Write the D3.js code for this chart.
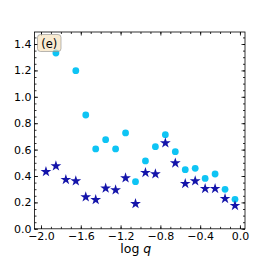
<!DOCTYPE html>
<html>
<head>
<meta charset="utf-8">
<script src="https://cdn.jsdelivr.net/npm/d3@7"></script>
<style>
  body { margin: 0; background: #fff; }
  text { font-family: "DejaVu Sans", sans-serif; }
</style>
</head>
<body>
<script>
'use strict';

// data
const circleX = [-1.85, -1.65, -1.55, -1.45, -1.35, -1.25, -1.15, -1.05, -0.95, -0.85, -0.75, -0.65, -0.55, -0.45, -0.35, -0.25, -0.15, -0.05];
const circleY = [1.332, 1.198, 0.862, 0.605, 0.675, 0.605, 0.726, 0.357, 0.514, 0.622, 0.713, 0.584, 0.448, 0.458, 0.382, 0.415, 0.299, 0.223];
const starX = [-1.95, -1.85, -1.75, -1.65, -1.55, -1.45, -1.35, -1.25, -1.15, -1.05, -0.95, -0.85, -0.75, -0.65, -0.55, -0.45, -0.35, -0.25, -0.15, -0.05];
const starY = [0.432, 0.476, 0.372, 0.362, 0.241, 0.22, 0.307, 0.294, 0.385, 0.19, 0.425, 0.415, 0.65, 0.498, 0.342, 0.362, 0.304, 0.304, 0.228, 0.175];
const xTicks = [-2.0, -1.6, -1.2, -0.8, -0.4, 0.0];
const yTicks = [0.0, 0.2, 0.4, 0.6, 0.8, 1.0, 1.2, 1.4];
const panelLabel = "(e)";

(function() {
  const width = 274, height = 258;
  const left = 34.5, right = 245, top = 32, bottom = 228.8;

  let svg = d3.select('body').append('svg')
    .attr('width', width)
    .attr('height', height);

  let xScale = d3.scaleLinear().domain([-2.0652, 0.0506]).range([left, right]);
  let yScale = d3.scaleLinear().domain([0, 1.491]).range([bottom, top]);

  let fmt = (d) => d3.format('.1f')(d).replace('-', '\u2212');

  // minor ticks
  let xMinor = d3.range(-2.0, 0.051, 0.1);
  let yMinor = d3.range(0, 1.491, 0.05);

  // axes with inward ticks on all four sides
  svg.append('g')
    .attr('transform', `translate(0,${bottom})`)
    .call(d3.axisBottom(xScale).tickValues(xMinor).tickSize(-2).tickFormat(''));
  svg.append('g')
    .attr('transform', `translate(0,${bottom})`)
    .call(d3.axisBottom(xScale).tickValues(xTicks).tickSize(-3.5).tickPadding(3).tickFormat(fmt));
  svg.append('g')
    .attr('transform', `translate(0,${top})`)
    .call(d3.axisTop(xScale).tickValues(xMinor).tickSize(-2).tickFormat(''));
  svg.append('g')
    .attr('transform', `translate(0,${top})`)
    .call(d3.axisTop(xScale).tickValues(xTicks).tickSize(-3.5).tickFormat(''));
  svg.append('g')
    .attr('transform', `translate(${left},0)`)
    .call(d3.axisLeft(yScale).tickValues(yMinor).tickSize(-2).tickFormat(''));
  svg.append('g')
    .attr('transform', `translate(${left},0)`)
    .call(d3.axisLeft(yScale).tickValues(yTicks).tickSize(-3.5).tickPadding(3).tickFormat(fmt));
  svg.append('g')
    .attr('transform', `translate(${right},0)`)
    .call(d3.axisRight(yScale).tickValues(yMinor).tickSize(-2).tickFormat(''));
  svg.append('g')
    .attr('transform', `translate(${right},0)`)
    .call(d3.axisRight(yScale).tickValues(yTicks).tickSize(-3.5).tickFormat(''));

  svg.selectAll('.domain').remove();
  svg.selectAll('.tick line').attr('stroke', '#000').attr('stroke-width', 0.8);
  svg.selectAll('.tick text')
    .attr('fill', '#000')
    .style('font-size', '11px')
    .style('font-family', '"DejaVu Sans", sans-serif');

  // frame
  svg.append('rect')
    .attr('x', left).attr('y', top)
    .attr('width', right - left).attr('height', bottom - top)
    .attr('fill', 'none').attr('stroke', '#000').attr('stroke-width', 0.8);

  // cyan circles
  svg.selectAll('.dot')
    .data(circleX.map((x, i) => ({x: x, y: circleY[i]})))
    .enter()
    .append('circle')
      .attr('cx', (d) => xScale(d.x))
      .attr('cy', (d) => yScale(d.y))
      .attr('r', 3.4)
      .attr('fill', '#0ec4f4');

  // blue stars
  let star = d3.symbol().type(d3.symbolStar).size(36);
  svg.selectAll('.star')
    .data(starX.map((x, i) => ({x: x, y: starY[i]})))
    .enter()
    .append('path')
      .attr('d', star)
      .attr('transform', (d) => `translate(${xScale(d.x)},${yScale(d.y)})`)
      .attr('fill', '#1414aa');

  // panel label box
  svg.append('rect')
    .attr('x', 37.5).attr('y', 34.5)
    .attr('width', 23.5).attr('height', 17)
    .attr('rx', 3)
    .attr('fill', '#f5deb3').attr('fill-opacity', 0.6)
    .attr('stroke', '#8a8a8a').attr('stroke-width', 0.6);
  svg.append('text')
    .attr('x', 49.2).attr('y', 47.5)
    .attr('text-anchor', 'middle')
    .style('font-size', '11.5px')
    .text(panelLabel);

  // x label
  let xl = svg.append('text')
    .attr('x', (left + right) / 2 - 4)
    .attr('y', 253)
    .attr('text-anchor', 'middle')
    .style('font-size', '12.5px');
  xl.append('tspan').text('log ');
  xl.append('tspan').style('font-style', 'italic').text('q');
})();
</script>
</body>
</html>
